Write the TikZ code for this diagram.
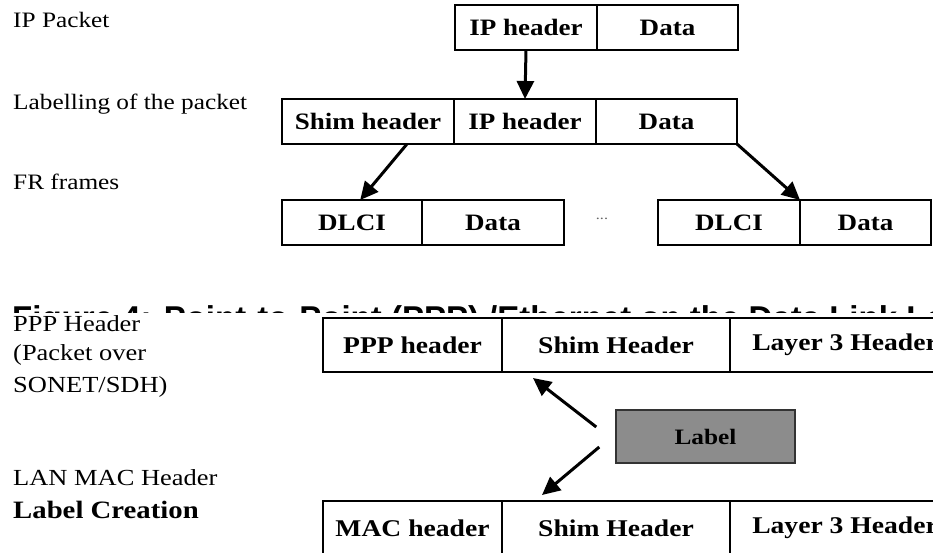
\documentclass[tikz,border=0pt]{standalone}
\usepackage{fontspec}
\setmainfont{Liberation Serif}[FakeStretch=1.15]
\newfontfamily\capfont{Liberation Sans}
\usetikzlibrary{arrows.meta, positioning}

\tikzset{
  cell/.style={draw, line width=1.6pt, inner sep=0pt, outer sep=0pt, minimum height=45pt, font=\fontsize{23.5}{27}\selectfont\bfseries},
  bigcell/.style={cell, minimum height=54pt, font=\fontsize{24}{28}\selectfont\bfseries},
  side/.style={anchor=base west, inner sep=0pt, font=\fontsize{22}{26}\selectfont},
  sidebig/.style={side, font=\fontsize{23}{28}\selectfont},
  push/.style={-{Triangle[length=18pt,width=17pt]}, line width=3pt},
}

\begin{document}
\begin{tikzpicture}[x=1pt, y=-1pt]
\clip (0,0) rectangle (933,552);
% frame relay
\node[side] (ippkt) at (13,27) {IP Packet};
\node[side] (lblpkt) at (13,109) {Labelling of the packet};
\node[side] (frfr) at (13,189) {FR frames};

\node[cell, minimum width=142pt, anchor=north west] (iph1) at (455,5) {IP header};
\node[cell, minimum width=141pt, right=0pt of iph1] (data1) {Data};

\node[cell, minimum width=172pt, anchor=north west] (shim) at (282,99) {Shim header};
\node[cell, minimum width=142pt, right=0pt of shim] (iph2) {IP header};
\node[cell, minimum width=141pt, right=0pt of iph2] (data2) {Data};

\node[cell, minimum width=140pt, anchor=north west] (dlci1) at (282,200) {DLCI};
\node[cell, minimum width=142pt, right=0pt of dlci1] (fdata1) {Data};
\node[font=\fontsize{14}{16}\selectfont, text=black!60] (dots) at (602,219) {...};
\node[cell, minimum width=142pt, anchor=north west] (dlci2) at (658,200) {DLCI};
\node[cell, minimum width=131pt, right=0pt of dlci2] (fdata2) {Data};

\draw[push] (iph1.south) -- (iph2.north);
\draw[push] (shim.-30) -- (dlci1.70);
\draw[push] (data2.south east) -- (dlci2.north east);

% caption cut off by the lower figure
\begin{scope}
\clip (0,300) rectangle (933,312);
\node[anchor=base west, inner sep=0pt, font=\capfont\bfseries\fontsize{33}{38}\selectfont] (cap) at (12,329) {Figure 4: Point-to-Point (PPP) /Ethernet on the Data Link Layer};
\end{scope}

% PPP / LAN
\node[sidebig] (ppphd) at (13,331) {PPP Header};
\node[sidebig] (pktover) at (13,360) {(Packet over};
\node[sidebig] (sonet) at (13,392) {SONET/SDH)};
\node[sidebig] (lanmac) at (13,485) {LAN MAC Header};
\node[side, font=\fontsize{25}{30}\selectfont\bfseries] (lblcre) at (13,518) {Label Creation};

\node[bigcell, minimum width=179pt, anchor=north west] (ppp) at (323,318) {PPP header};
\node[bigcell, minimum width=228pt, right=0pt of ppp] (shimA) {Shim Header};
\node[bigcell, minimum width=230pt, right=0pt of shimA] (l3A) {Layer 3 Header};

\node[bigcell, minimum width=179pt, anchor=north west] (mac) at (323,501) {MAC header};
\node[bigcell, minimum width=228pt, right=0pt of mac] (shimB) {Shim Header};
\node[bigcell, minimum width=230pt, right=0pt of shimB] (l3B) {Layer 3 Header};

\node[draw=black!80, fill=black!45, line width=1.5pt, minimum width=179pt, minimum height=53pt, font=\fontsize{22}{26}\selectfont\bfseries] (lbl) at (705.5,436.5) {Label};

\coordinate (lblup) at ([xshift=-19pt,yshift=9.5pt]lbl.west);
\coordinate (lbldn) at ([xshift=-16pt,yshift=-10.5pt]lbl.west);
\draw[push] (lblup) -- ([xshift=31pt,yshift=-6pt]shimA.south west);
\draw[push] (lbldn) -- ([xshift=40pt,yshift=6pt]shimB.north west);
\end{tikzpicture}
\end{document}
